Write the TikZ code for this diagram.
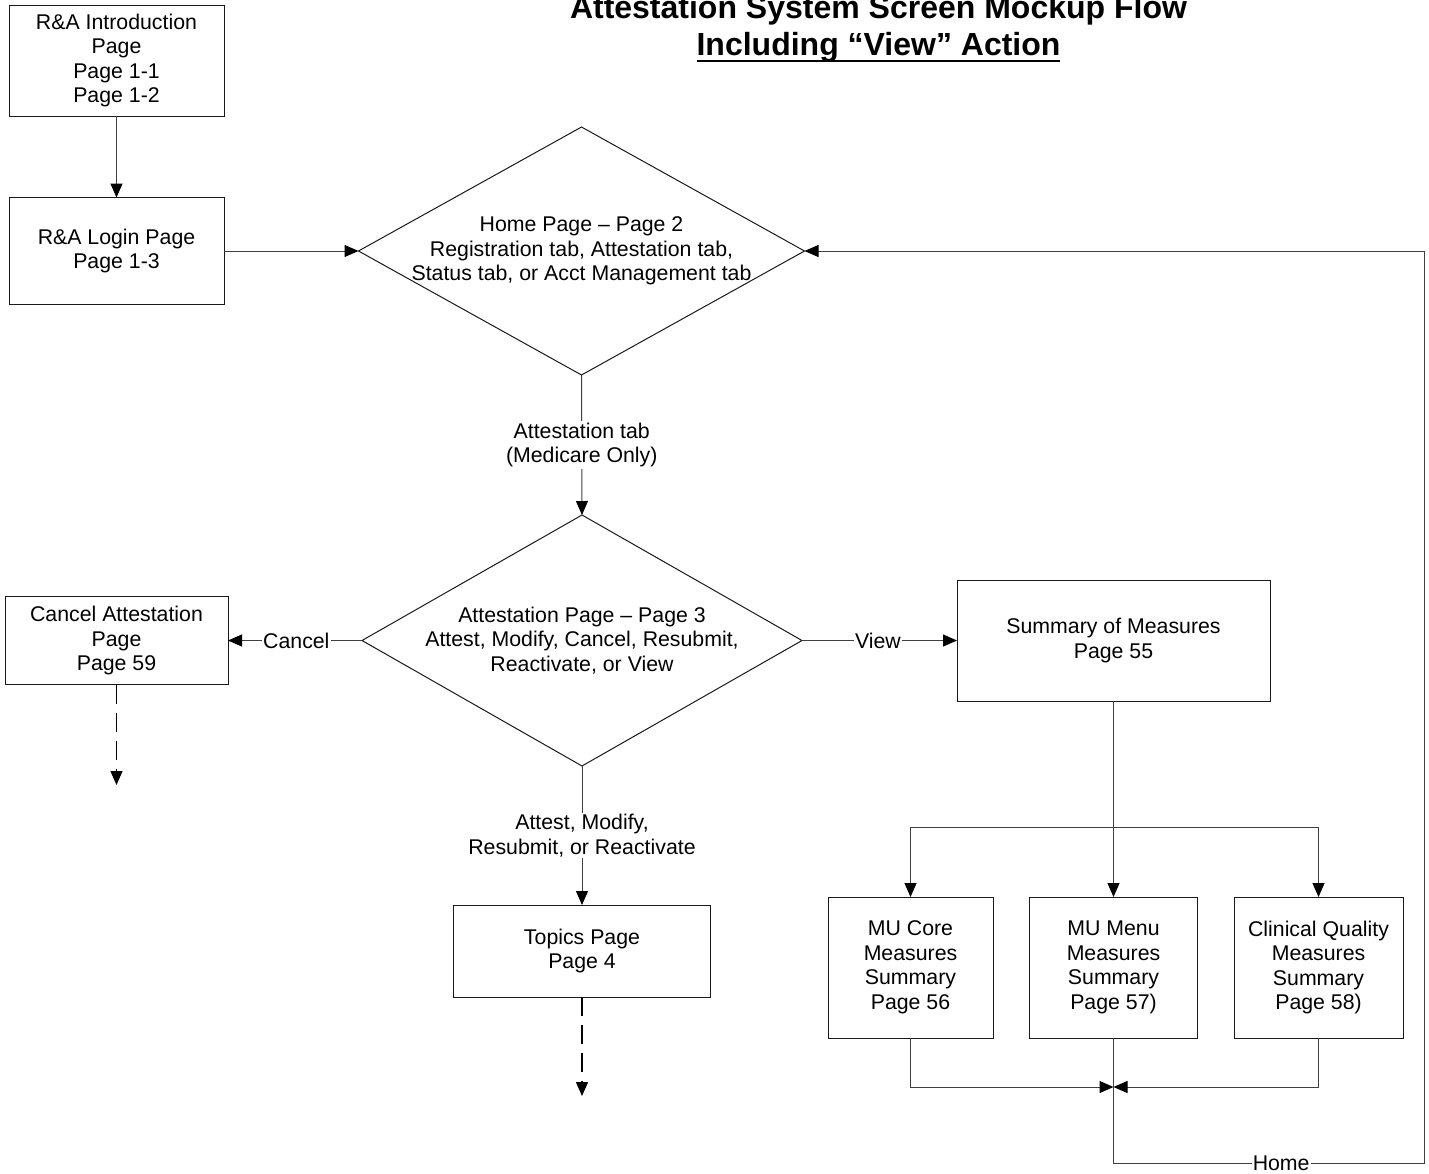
\documentclass[tikz,border=0pt]{standalone}
\usepackage{fontspec}
\setmainfont{Liberation Sans}
\usetikzlibrary{shapes.geometric,arrows.meta}
\begin{document}
\begin{tikzpicture}[x=1pt,y=-1pt,
  every node/.style={font=\fontsize{21.3}{24.5}\selectfont, outer sep=0pt},
  box/.style={draw=black!90, line width=1pt, rectangle, align=center, inner sep=0pt},
  dia/.style={draw=black!90, line width=1pt, diamond, inner sep=0pt},
  txt/.style={align=center, inner sep=0pt},
  lbl/.style={align=center, fill=white, inner sep=1.5pt},
  conn/.style={draw=black!75, line width=1pt},
  arr/.style={conn, -{Triangle[length=14pt,width=12pt,color=black]}},
  darr/.style={arr, draw=black, line width=1.3pt, dash pattern=on 19pt off 9pt},
  ttl/.style={font=\bfseries\fontsize{32}{37}\selectfont, inner sep=0pt, anchor=base}
]
\useasboundingbox (0,0) rectangle (1429,1173);

% title
\node[ttl] (t1) at (878.5,18) {Attestation System Screen Mockup Flow};
\node[ttl] (t2) at (878.5,55.5) {Including “View” Action};
\draw[line width=2.3pt] ([yshift=-5.5pt]t2.base west) -- ([yshift=-5.5pt]t2.base east);

% boxes
\node[box, minimum width=215pt, minimum height=111pt] (intro) at (116.5,60.5)
  {R\&A Introduction\\Page\\Page 1-1\\Page 1-2};
\node[box, minimum width=215pt, minimum height=107pt] (login) at (116.5,251)
  {R\&A Login Page\\Page 1-3};

\node[dia, minimum width=446pt, minimum height=248pt] (home) at (581.5,251) {};
\node[txt] (hometxt) at (581.5,251)
  {Home Page – Page 2\\Registration tab, Attestation tab,\\Status tab, or Acct Management tab};

\node[dia, minimum width=440pt, minimum height=251pt] (att) at (582,640.5) {};
\node[txt] (atttxt) at (582,640.5)
  {Attestation Page – Page 3\\Attest, Modify, Cancel, Resubmit,\\Reactivate, or View};

\node[box, minimum width=223pt, minimum height=88pt] (cancel) at (116.5,640.5)
  {Cancel Attestation\\Page\\Page 59};

\node[box, minimum width=313pt, minimum height=121pt] (summary) at (1113.5,640.5)
  {Summary of Measures\\Page 55};

\node[box, minimum width=257pt, minimum height=92pt] (topics) at (582,951)
  {Topics Page\\Page 4};

\node[box, minimum width=165pt, minimum height=141pt] (core) at (910.5,967.5)
  {MU Core\\Measures\\Summary\\Page 56};
\node[box, minimum width=168pt, minimum height=141pt] (menu) at (1113.5,967.5)
  {MU Menu\\Measures\\Summary\\Page 57)};
\node[box, minimum width=169pt, minimum height=141pt] (cqm) at (1318.5,967.5)
  {Clinical Quality\\Measures\\Summary\\Page 58)};

% coordinates for free ends and bends
\coordinate (cancelend) at (116.5,785);
\coordinate (topicsend) at (582,1096);
\coordinate (split) at (1113.5,827);
\coordinate (merge) at (1113.5,1087);
\coordinate (hb) at (1113.5,1163);
\coordinate (hr) at (1424,1163);
\coordinate (ht) at (1424,251);

% connectors
\draw[arr] (intro.south) -- (login.north);
\draw[arr] (login.east) -- (home.west);
\draw[arr] (home.south) -- node[lbl] (l1) {Attestation tab\\(Medicare Only)} (att.north);
\draw[arr] (att.west) -- node[lbl, pos=0.49] (l2) {Cancel} (cancel.east);
\draw[arr] (att.east) -- node[lbl, pos=0.49] (l3) {View} (summary.west);
\draw[arr] (att.south) -- node[lbl] (l4) {Attest, Modify,\\Resubmit, or Reactivate} (topics.north);
\draw[darr] (cancel.south) -- (cancelend);
\draw[darr] (topics.south) -- (topicsend);

\draw[conn] (summary.south) -- (split);
\draw[arr] (split) -| (core.north);
\draw[arr] (split) -| (cqm.north);
\draw[arr] (split) -- (menu.north);

\draw[arr] (core.south) |- (merge);
\draw[arr] (cqm.south) |- (merge);

\draw[arr] (menu.south) -- (hb) -- node[lbl, pos=0.54, inner sep=1pt] (l5) {Home} (hr) -- (ht) -- (home.east);
\end{tikzpicture}
\end{document}
